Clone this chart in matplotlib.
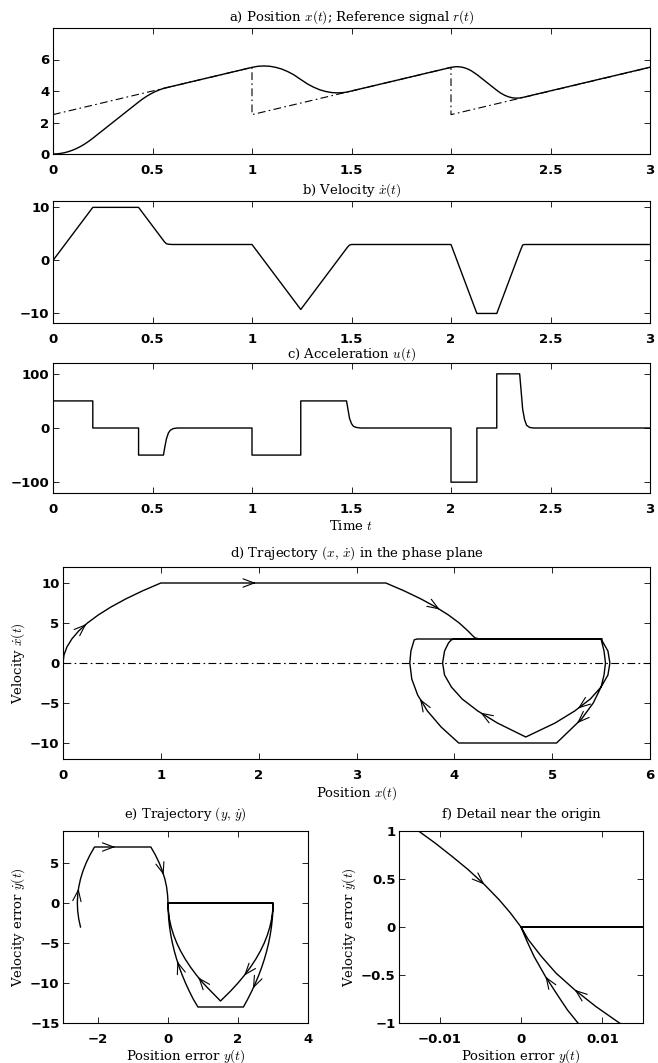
import numpy as np
import matplotlib.pyplot as plt
from matplotlib.ticker import FuncFormatter

t = [0, 0.02, 0.04, 0.06, 0.08, 0.10, 0.12, 0.14, 0.16, 0.18, 0.20,
     0.30, 0.43,
     0.45, 0.47, 0.49, 0.51, 0.53, 0.55, 0.56, 0.57, 0.58, 0.60,
     0.80, 1.00,
     1.03, 1.06, 1.09, 1.12, 1.15, 1.18, 1.21, 1.245,
     1.28, 1.31, 1.34, 1.37, 1.40, 1.43, 1.46, 1.48, 1.49, 1.50,
     2.00,
     2.015, 2.03, 2.045, 2.06, 2.08, 2.10, 2.13,
     2.23,
     2.25, 2.27, 2.29, 2.31, 2.33, 2.345, 2.36, 2.37, 2.40,
     3.00]
pos = [0, 0.01, 0.04, 0.09, 0.16, 0.25, 0.36, 0.49, 0.64, 0.81, 1.00,
       2.00, 3.30,
       3.49, 3.66, 3.81, 3.94, 4.05, 4.14, 4.18, 4.21, 4.24, 4.30,
       4.90, 5.50,
       5.57, 5.59, 5.57, 5.50, 5.39, 5.23, 5.03, 4.73,
       4.44, 4.24, 4.08, 3.97, 3.90, 3.88, 3.90, 3.94, 3.97, 4.00,
       5.50,
       5.53, 5.545, 5.53, 5.50, 5.42, 5.30, 5.045,
       4.045,
       3.865, 3.725, 3.625, 3.565, 3.545, 3.556, 3.59, 3.62, 3.71,
       5.51]
vel = [0, 1, 2, 3, 4, 5, 6, 7, 8, 9, 10,
       10, 10,
       9, 8, 7, 6, 5, 4, 3.5, 3.15, 3.05, 3.0,
       3, 3,
       1.5, 0, -1.5, -3, -4.5, -6, -7.5, -9.25,
       -7.5, -6, -4.5, -3, -1.5, 0, 1.5, 2.5, 2.9, 3.0,
       3.0,
       1.5, 0, -1.5, -3, -5, -7, -10,
       -10,
       -8, -6, -4, -2, 0, 1.5, 2.9, 3.0, 3.0,
       3.0]

# reference signal r(t)
t_ref = [0, 1, 1, 2, 2, 3]
ref = [2.5, 5.5, 2.5, 5.5, 2.5, 5.5]

# acceleration u(t)
t_u = [0, 0.2, 0.2, 0.43, 0.43, 0.555, 0.562, 0.57, 0.58, 0.59, 0.605, 0.625,
       1.0, 1.0, 1.245, 1.245, 1.475, 1.482, 1.49, 1.50, 1.51, 1.525, 1.545,
       2.0, 2.0, 2.13, 2.13, 2.23, 2.23, 2.345, 2.352, 2.36, 2.37, 2.38, 2.395, 2.415, 3.0]
acc = [50, 50, 0, 0, -50, -50, -35, -20, -9, -4, -1, 0,
       0, -50, -50, 50, 50, 35, 18, 8, 3, 1, 0,
       0, -100, -100, 0, 0, 100, 100, 70, 35, 15, 5, 1, 0, 0]

err = [-2.5, -2.55, -2.58, -2.59, -2.58, -2.55, -2.5, -2.43, -2.34, -2.23, -2.1,
       -0.49,
       -0.36, -0.25, -0.16, -0.09, -0.04, -0.0126, -0.0106, -0.0085, -0.0065, -0.0045, -0.0027, -0.0013, 0.0,
       3.0,
       2.99, 2.96, 2.91, 2.84, 2.75, 2.64, 2.51, 2.36, 2.19, 2.0, 1.79, 1.5,
       1.22, 1.0, 0.81, 0.64, 0.49, 0.36, 0.25, 0.16, 0.09, 0.04, 0.0121, 0.0092, 0.0066, 0.0043, 0.0025, 0.0009, 0.0,
       3.0,
       2.9975, 2.98, 2.955, 2.92, 2.875, 2.82, 2.755, 2.68, 2.595, 2.5, 2.395, 2.28, 2.155,
       0.855,
       0.72, 0.605, 0.5, 0.405, 0.32, 0.245, 0.18, 0.125, 0.08, 0.045, 0.02, 0.007, 0.0057, 0.0046, 0.003, 0.0016, 0.00065, 0.0]
err_dot = [-3, -2, -1, 0, 1, 2, 3, 4, 5, 6, 7,
           7,
           6, 5, 4, 3, 2, 1, 0.877, 0.737, 0.598, 0.442, 0.285, 0.146, 0,
           0,
           -1, -2, -3, -4, -5, -6, -7, -8, -9, -10, -11, -12.25,
           -11, -10, -9, -8, -7, -6, -5, -4, -3, -2, -1, -0.828, -0.654, -0.48, -0.306, -0.132, 0,
           0,
           -1, -2, -3, -4, -5, -6, -7, -8, -9, -10, -11, -12, -13,
           -13,
           -12, -11, -10, -9, -8, -7, -6, -5, -4, -3, -2, -1, -0.863, -0.723, -0.515, -0.306, -0.132, 0]

# arrow locations along the trajectories
arrows_d = [(0.23, 4.98), (1.97, 10), (3.86, 6.85), (3.64, -4.56), (4.27, -6.14), (5.27, -5.8), (5.25, -7.47)]
arrows_e = [(-2.59, 1.83), (-1.51, 7), (-0.12, 3.5), (0.26, -7.3), (0.86, -9.3), (2.2, -9.17), (2.45, -10.75)]
arrows_f = [(-0.0045, 0.442), (0.003, -0.515), (0.0066, -0.654)]

t_ticks = [0, 0.5, 1, 1.5, 2, 2.5, 3]

plt.rcParams['font.family'] = ['DejaVu Sans']
plt.rcParams['mathtext.fontset'] = 'cm'

W, H = 658, 1063
fig = plt.figure(figsize=(W / 100, H / 100), dpi=100)

serif = dict(family='DejaVu Serif', weight='normal', size=9.5)
dashdot = (0, (7, 3, 1.5, 3))
fmt = FuncFormatter(lambda v, p: ('%g' % v).replace('-', '\u2212'))


def add_ax(l, t_, r, b):
    return fig.add_axes([l / W, 1 - b / H, (r - l) / W, (b - t_) / H])


def style(ax, title, pad):
    ax.tick_params(direction='in', top=True, right=True, length=4, width=0.6, labelsize=9.5)
    ax.tick_params(axis='x', pad=7)
    ax.tick_params(axis='y', pad=2.5)
    ax.xaxis.set_major_formatter(fmt)
    ax.yaxis.set_major_formatter(fmt)
    for lbl in ax.get_xticklabels() + ax.get_yticklabels():
        lbl.set_fontweight('bold')
    for s in ax.spines.values():
        s.set_linewidth(0.8)
    ax.set_title(title, fontdict=serif, pad=pad)


def add_arrows(ax, xs, ys, pts):
    xy = ax.transData.transform(np.column_stack([xs, ys]))
    a, b = xy[:-1], xy[1:]
    d = b - a
    L2 = (d ** 2).sum(1)
    inv = ax.transData.inverted()
    for px, py in pts:
        p = ax.transData.transform((px, py))
        s = np.clip(((p - a) * d).sum(1) / np.where(L2 > 0, L2, 1), 0, 1)
        proj = a + s[:, None] * d
        dist = np.hypot(*(proj - p).T)
        dist[L2 == 0] = np.inf
        k = np.argmin(dist)
        q = proj[k]
        u = d[k] / np.sqrt(L2[k])
        ax.annotate('', xy=inv.transform(q), xytext=inv.transform(q - 2 * u),
                    arrowprops=dict(arrowstyle='->,head_length=0.8,head_width=0.3',
                                    lw=0.8, color='k', shrinkA=0, shrinkB=0,
                                    mutation_scale=10))


# a) position and reference
ax = add_ax(53, 28, 650, 154)
ax.plot(t_ref, ref, color='k', lw=0.8, ls=dashdot)
ax.plot(t, pos, color='k', lw=1.0)
ax.set_xlim(0, 3)
ax.set_ylim(0, 8)
ax.set_xticks(t_ticks)
ax.set_yticks([0, 2, 4, 6])
style(ax, r'a) Position $x(t)$; Reference signal $r(t)$', 5)

# b) velocity
ax = add_ax(53, 201, 650, 323)
ax.plot(t, vel, color='k', lw=1.0)
ax.set_xlim(0, 3)
ax.set_ylim(-11.8, 11.2)
ax.set_xticks(t_ticks)
ax.set_yticks([-10, 0, 10])
style(ax, r'b) Velocity $\dot{x}(t)$', 5.5)

# c) acceleration
ax = add_ax(53, 363, 650, 493)
ax.plot(t_u, acc, color='k', lw=1.0)
ax.set_xlim(0, 3)
ax.set_ylim(-120, 120)
ax.set_xticks(t_ticks)
ax.set_yticks([-100, 0, 100])
style(ax, r'c) Acceleration $u(t)$', 4.0)
ax.set_xlabel(r'Time $t$', fontdict=serif, labelpad=2)

# d) phase plane
ax = add_ax(63, 567, 650, 759)
ax.axhline(0, color='k', lw=0.8, ls=dashdot)
ax.plot(pos, vel, color='k', lw=1.0)
ax.set_xlim(0, 6)
ax.set_ylim(-12, 12)
ax.set_xticks(range(7))
ax.set_yticks([-10, -5, 0, 5, 10])
style(ax, r'd) Trajectory $(x,\,\dot{x})$ in the phase plane', 7.5)
ax.set_xlabel(r'Position $x(t)$', fontdict=serif, labelpad=1.5)
ax.set_ylabel(r'Velocity $\dot{x}(t)$', fontdict=serif, labelpad=2)
add_arrows(ax, pos, vel, arrows_d)

# e) error trajectory
ax = add_ax(63, 831, 308, 1023)
ax.plot(err, err_dot, color='k', lw=1.0)
ax.set_xlim(-3, 4)
ax.set_ylim(-15, 9)
ax.set_xticks([-2, 0, 2, 4])
ax.set_yticks([-15, -10, -5, 0, 5])
style(ax, r'e) Trajectory $(y,\,\dot{y})$', 9.5)
ax.set_xlabel(r'Position error $y(t)$', fontdict=serif, labelpad=1)
ax.set_ylabel(r'Velocity error $\dot{y}(t)$', fontdict=serif, labelpad=2)
add_arrows(ax, err, err_dot, arrows_e)

# f) detail near the origin
ax = add_ax(399, 831, 643, 1023)
ax.plot(err, err_dot, color='k', lw=1.0)
ax.set_xlim(-0.015, 0.015)
ax.set_ylim(-1, 1)
ax.set_xticks([-0.01, 0, 0.01])
ax.set_yticks([-1, -0.5, 0, 0.5, 1])
style(ax, 'f) Detail near the origin', 9.5)
ax.set_xlabel(r'Position error $y(t)$', fontdict=serif, labelpad=1)
ax.set_ylabel(r'Velocity error $\dot{y}(t)$', fontdict=serif, labelpad=2)
add_arrows(ax, err, err_dot, arrows_f)

fig.savefig('out.png', dpi=100)
